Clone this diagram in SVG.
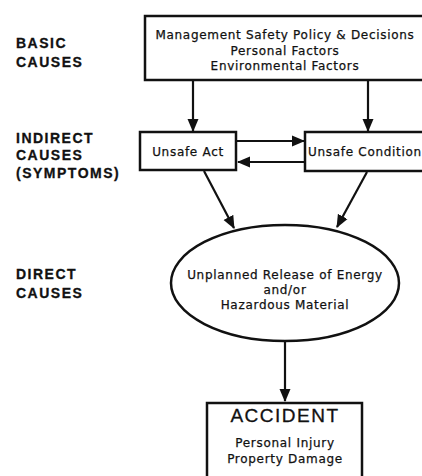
<svg xmlns="http://www.w3.org/2000/svg" width="422" height="476" viewBox="0 0 422 476">
  <style>
    .box { fill: #fff; stroke: #111; stroke-width: 2.5; }
    .lvl { font-family: "Liberation Sans", Arial, sans-serif; font-weight: bold; font-size: 14px; letter-spacing: 1.5px; fill: #111; stroke: #111; stroke-width: 0.3; }
    .txt { font-family: "DejaVu Sans", Verdana, sans-serif; font-size: 12px; letter-spacing: 0.7px; fill: #111; stroke: #111; stroke-width: 0.25; text-anchor: middle; }
    .big { font-family: "Liberation Sans", Arial, sans-serif; font-size: 19px; letter-spacing: 1.5px; fill: #111; stroke: #111; stroke-width: 0.3; text-anchor: middle; }
    .edge { stroke: #111; stroke-width: 2.2; fill: none; marker-end: url(#head); }
  </style>
  <defs>
    <marker id="head" markerUnits="userSpaceOnUse" markerWidth="13" markerHeight="13" viewBox="0 0 13 13" refX="12" refY="6.5" orient="auto">
      <path d="M0,1 L13,6.5 L0,12 Z" fill="#111"/>
    </marker>
  </defs>
  <rect width="422" height="476" fill="#fff"/>

  <!-- level labels -->
  <g id="levels">
    <text class="lvl" x="16" y="48">BASIC</text>
    <text class="lvl" x="16" y="67">CAUSES</text>
    <text class="lvl" x="16" y="143">INDIRECT</text>
    <text class="lvl" x="16" y="160">CAUSES</text>
    <text class="lvl" x="16" y="178">(SYMPTOMS)</text>
    <text class="lvl" x="16" y="279">DIRECT</text>
    <text class="lvl" x="16" y="298">CAUSES</text>
  </g>

  <!-- connectors -->
  <g id="connectors">
    <line class="edge" x1="193" y1="81" x2="193" y2="131"/>
    <line class="edge" x1="368" y1="81" x2="368" y2="131"/>
    <line class="edge" x1="237" y1="141" x2="304" y2="141"/>
    <line class="edge" x1="305" y1="162" x2="238" y2="162"/>
    <line class="edge" x1="204" y1="171" x2="234" y2="228"/>
    <line class="edge" x1="367" y1="172" x2="337" y2="227"/>
    <line class="edge" x1="285" y1="341" x2="285" y2="401"/>
  </g>

  <g id="basic">
    <rect class="box" x="145" y="16" width="285" height="64"/>
    <text class="txt" x="285" y="39">Management Safety Policy &amp; Decisions</text>
    <text class="txt" x="285" y="55">Personal Factors</text>
    <text class="txt" x="285" y="70">Environmental Factors</text>
  </g>

  <g id="unsafe-act">
    <rect class="box" x="140" y="132" width="96" height="38"/>
    <text class="txt" x="188" y="156">Unsafe Act</text>
  </g>

  <g id="unsafe-condition">
    <rect class="box" x="305" y="132" width="130" height="39"/>
    <text class="txt" x="308" y="156" style="text-anchor:start">Unsafe Condition</text>
  </g>

  <g id="release">
    <ellipse class="box" cx="285" cy="283" rx="114" ry="58"/>
    <text class="txt" x="285" y="279">Unplanned Release of Energy</text>
    <text class="txt" x="285" y="294">and/or</text>
    <text class="txt" x="285" y="309">Hazardous Material</text>
  </g>

  <g id="accident">
    <rect class="box" x="207" y="403" width="155" height="80"/>
    <text class="big" x="285" y="422">ACCIDENT</text>
    <text class="txt" x="285" y="447">Personal Injury</text>
    <text class="txt" x="285" y="463">Property Damage</text>
  </g>
</svg>
